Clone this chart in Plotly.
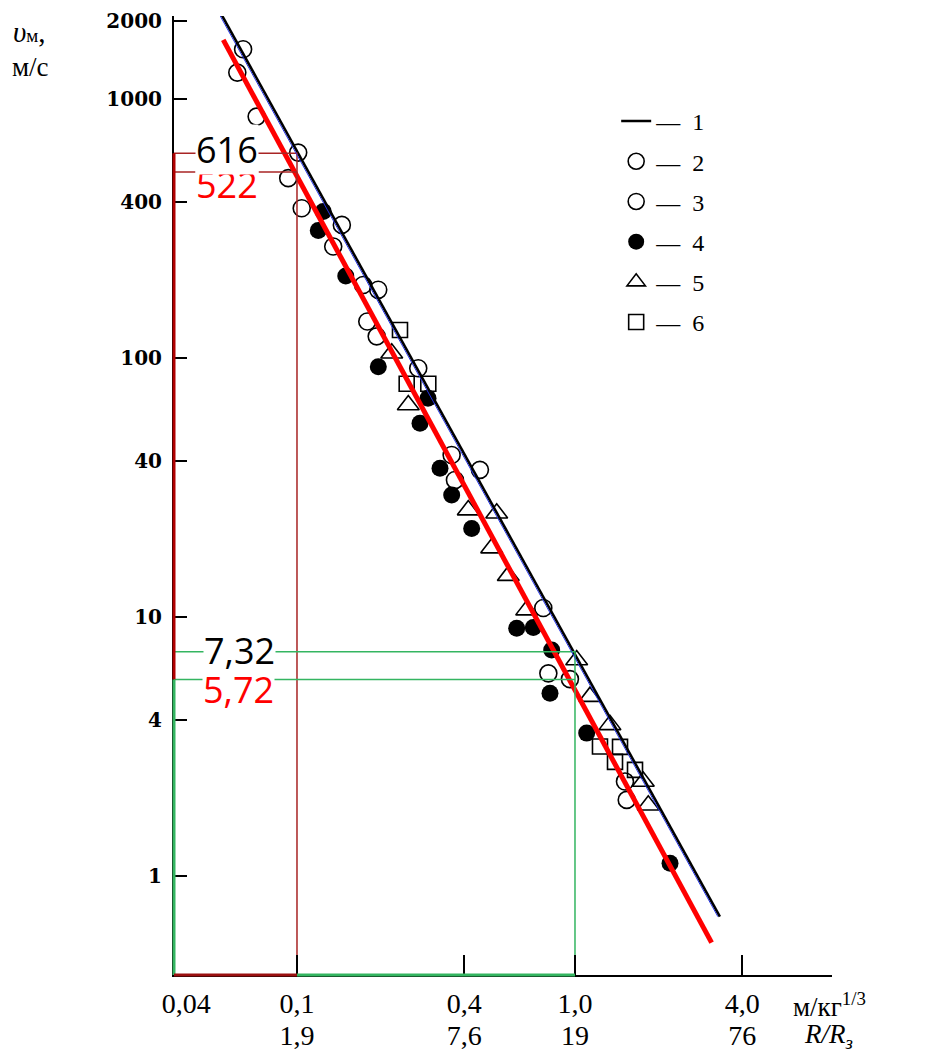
import math
import plotly.graph_objects as go

# ---- data -----------------------------------------------------------------
# reduced distance (m/kg^1/3) and peak velocity (m/s)
line1_x = [0.0536, 3.32]
line1_y = [2109, 0.694]
blue_x = [0.0527, 3.266]
blue_y = [2109, 0.694]
red_x = [0.0543, 3.10]
red_y = [1689, 0.551]

s2_x = [0.064, 0.061, 0.0716, 0.101, 0.093, 0.104, 0.145, 0.135, 0.173, 0.196]
s2_y = [1555, 1263, 854, 620, 494, 378, 326, 269, 191, 183]
s3_x = [0.179, 0.1935, 0.273, 0.360, 0.455, 0.370, 0.769, 0.802, 0.959, 1.513, 1.535]
s3_y = [138, 121, 91.1, 42.1, 36.9, 33.7, 10.8, 6.04, 5.74, 2.31, 1.96]
s4_x = [0.1243, 0.1193, 0.1498, 0.1961, 0.296, 0.277, 0.3269, 0.3601, 0.425,
        0.617, 0.708, 0.8244, 0.813, 1.102, 2.197]
s4_y = [367, 310, 207, 92.4, 69.8, 55.8, 37.4, 29.5, 21.9, 9.02, 9.08, 7.44,
        5.06, 3.55, 1.116]
s5_x = [0.2192, 0.2514, 0.4132, 0.5229, 0.5016, 0.5755, 0.6703, 1.014, 1.132,
        1.336, 1.761, 1.835]
s5_y = [104.1, 65.7, 25.8, 25.1, 18.4, 14.4, 10.6, 6.80, 4.91, 3.82, 2.31, 1.87]
s6_x = [0.2347, 0.2481, 0.2967, 1.230, 1.452, 1.393, 1.644]
s6_y = [128, 79.4, 79.4, 3.15, 3.14, 2.75, 2.56]

# marked readings on line 1 (black) and the red fit
read_x = [0.1, 1.0]
read_black = [616, 7.32]
read_red = [522, 5.72]
read_black_txt = ["616", "7,32"]
read_red_txt = ["522", "5,72"]

x_ticks = [0.04, 0.1, 0.4, 1.0, 4.0]
x_ticktext = ["0,04", "0,1", "0,4", "1,0", "4,0"]
rr_ticks = [0.1, 0.4, 1.0, 4.0]
rr_ticktext = ["1,9", "7,6", "19", "76"]
y_ticks = [1, 4, 10, 40, 100, 400, 1000, 2000]
y_ticktext = ["1", "4", "10", "40", "100", "400", "1000", "2000"]

legend_names = ["—\u00a0\u00a01", "—\u00a0\u00a02", "—\u00a0\u00a03",
                "—\u00a0\u00a04", "—\u00a0\u00a05", "—\u00a0\u00a06"]

# ---- axes ranges (log10) --------------------------------------------------
X0, X1 = -1.4424, 0.9245
Y0, Y1 = -0.384, 3.32
XMIN, YMIN = 10 ** X0, 10 ** Y0

DARKRED = "#a82424"
GREEN = "#34b561"
SERIF = "Liberation Serif"


def px(v):
    return (math.log10(v) - X0) / (X1 - X0)


def py(v):
    return (math.log10(v) - Y0) / (Y1 - Y0)


fig = go.Figure()

mk_line = dict(color="black", width=1.6)
fig.add_trace(go.Scatter(x=s2_x, y=s2_y, mode="markers", name=legend_names[1], legendrank=2,
                         marker=dict(symbol="circle-open", size=17, color="black", line=mk_line)))
fig.add_trace(go.Scatter(x=s3_x, y=s3_y, mode="markers", name=legend_names[2], legendrank=3,
                         marker=dict(symbol="circle-open", size=17, color="black", line=mk_line)))
fig.add_trace(go.Scatter(x=s4_x, y=s4_y, mode="markers", name=legend_names[3], legendrank=4,
                         marker=dict(symbol="circle", size=17, color="black")))
fig.add_trace(go.Scatter(x=s5_x, y=s5_y, mode="markers", name=legend_names[4], legendrank=5,
                         marker=dict(symbol="triangle-up-open", size=19, color="black", line=mk_line)))
fig.add_trace(go.Scatter(x=s6_x, y=s6_y, mode="markers", name=legend_names[5], legendrank=6,
                         marker=dict(symbol="square-open", size=15, color="black", line=mk_line)))

# line 1
fig.add_trace(go.Scatter(x=line1_x, y=line1_y, mode="lines", name=legend_names[0], legendrank=1,
                         line=dict(color="black", width=2.6)))
# thin blue guide along line 1 (drawn on the second x axis, same scale)
fig.add_trace(go.Scatter(x=blue_x, y=blue_y, mode="lines", xaxis="x2", showlegend=False,
                         line=dict(color="#2433e0", width=1)))
# red fit
fig.add_trace(go.Scatter(x=red_x, y=red_y, mode="lines", showlegend=False,
                         line=dict(color="#ff0000", width=5)))

# reading guides
colors = [DARKRED, GREEN]
for i in range(2):
    fig.add_trace(go.Scatter(x=[XMIN, read_x[i], read_x[i]], y=[read_black[i], read_black[i], YMIN],
                             mode="lines", showlegend=False, hoverinfo="skip",
                             line=dict(color=colors[i], width=1.5)))
    fig.add_trace(go.Scatter(x=[XMIN, read_x[i]], y=[read_red[i], read_red[i]],
                             mode="lines", showlegend=False, hoverinfo="skip",
                             line=dict(color=colors[i], width=1.5)))

# coloured overlays on the axes
shapes = [
    dict(type="line", xref="paper", yref="paper", x0=0, x1=0, y0=py(read_red[1]), y1=py(read_black[0]),
         line=dict(color="#b00000", width=3), layer="above"),
    dict(type="line", xref="paper", yref="paper", x0=0, x1=0, y0=0, y1=py(read_red[1]),
         line=dict(color=GREEN, width=3), layer="above"),
    dict(type="line", xref="paper", yref="paper", x0=0, x1=px(read_x[0]), y0=0, y1=0,
         line=dict(color="#9a1010", width=3), layer="above"),
    dict(type="line", xref="paper", yref="paper", x0=px(read_x[0]), x1=px(read_x[1]), y0=0, y1=0,
         line=dict(color=GREEN, width=3), layer="above"),
]

# value labels: red ones first so the black ones sit on top
annotations = []
for txt, val, col, dy, xp in [
        (read_red_txt[0], read_red[0], "#ff0000", -13, 0.0805),
        (read_black_txt[0], read_black[0], "black", 4, 0.0805),
        (read_red_txt[1], read_red[1], "#ff0000", -10, 0.0985),
        (read_black_txt[1], read_black[1], "black", 1, 0.1),
]:
    annotations.append(dict(x=xp, y=math.log10(val), xref="paper", yref="y",
                            xanchor="center", yanchor="middle",
                            text=txt, showarrow=False, yshift=dy,
                            font=dict(family="Open Sans", size=36, color=col),
                            bgcolor="white", borderpad=0))

annotations += [
    dict(x=-0.248, y=0.9835, xref="paper", yref="paper", xanchor="left", yanchor="middle",
         showarrow=False, text="<i>υ</i><span style='font-size:19px'>м</span>,",
         font=dict(family=SERIF, size=29, color="black")),
    dict(x=-0.250, y=0.9465, xref="paper", yref="paper", xanchor="left", yanchor="middle",
         showarrow=False, text="м/с", font=dict(family=SERIF, size=27, color="black")),
    dict(x=0.9377, y=-0.031, xref="paper", yref="paper", xanchor="left", yanchor="middle",
         showarrow=False, text="м/кг<sup>1/3</sup>",
         font=dict(family=SERIF, size=27, color="black")),
    dict(x=0.955, y=-0.0635, xref="paper", yref="paper", xanchor="left", yanchor="middle",
         showarrow=False, text="<i>R/R</i><sub><i>з</i></sub>",
         font=dict(family=SERIF, size=27, color="black")),
]

fig.update_layout(
    width=942, height=1052, autosize=False,
    margin=dict(l=174, r=110, t=16, b=77),
    paper_bgcolor="white", plot_bgcolor="white",
    showlegend=True,
    legend=dict(x=0.672, y=0.9135, xanchor="left", yanchor="top", bgcolor="rgba(0,0,0,0)",
                font=dict(family=SERIF, size=24, color="black"), tracegroupgap=6,
                traceorder="grouped"),
    xaxis=dict(type="log", range=[X0, X1], showgrid=False, zeroline=False, automargin=False,
               showline=True, linecolor="black", linewidth=2,
               tickvals=x_ticks, ticktext=x_ticktext, ticks="",
               ticklabelstandoff=2,
               tickfont=dict(family=SERIF, size=28, color="black")),
    xaxis2=dict(type="log", range=[X0, X1], overlaying="x", anchor="y", side="bottom",
                showgrid=False, zeroline=False, showline=False, automargin=False,
                tickvals=rr_ticks, ticktext=rr_ticktext, ticks="inside", ticklen=20,
                tickwidth=2, tickcolor="black", ticklabelstandoff=41,
                tickfont=dict(family=SERIF, size=28, color="black")),
    yaxis=dict(type="log", range=[Y0, Y1], showgrid=False, zeroline=False, automargin=False,
               showline=True, linecolor="black", linewidth=2,
               tickvals=y_ticks, ticktext=y_ticktext, ticks="inside", ticklen=13,
               tickwidth=2, tickcolor="black", ticklabelstandoff=6,
               tickfont=dict(family="DejaVu Serif", size=20, color="black", weight="bold")),
    shapes=shapes,
    annotations=annotations,
)

# each legend entry in its own group so the rows are spaced apart
for i, tr in enumerate(fig.data):
    if tr.showlegend is not False:
        tr.legendgroup = f"g{i}"

fig.write_html("out.html")
